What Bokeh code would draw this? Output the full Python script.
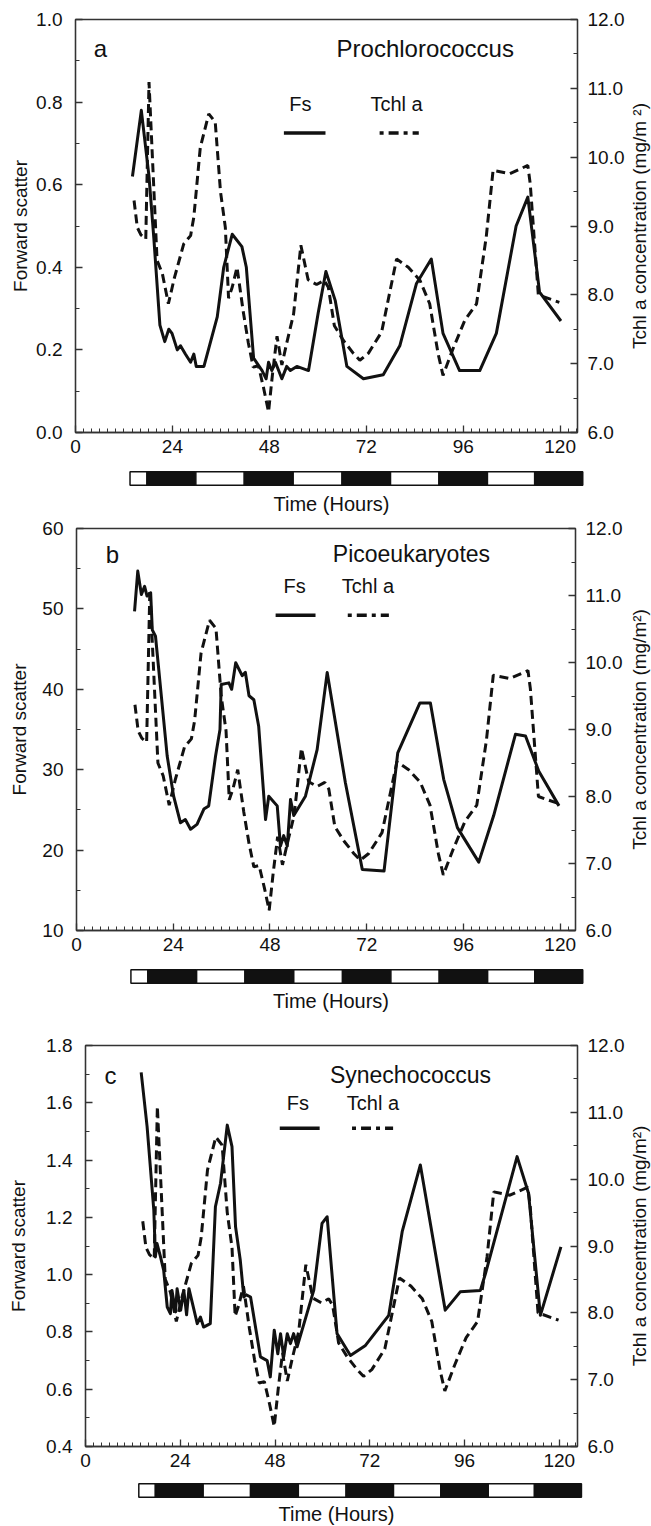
import math
from bokeh.plotting import figure
from bokeh.layouts import column, row
from bokeh.models import Range1d, LinearAxis, FixedTicker, PrintfTickFormatter, Label, Title
from bokeh.embed import file_html
from bokeh.resources import INLINE

FONT = "Liberation Sans"
INK = "#111111"
AXC = "#333333"

# ---------------- data ----------------
# Total chlorophyll a (same series drawn in all three panels, right axis)
tchl_hours = [14.5, 15.3, 16.2, 17.4, 18.2, 20.2, 21.5, 23.0, 24.5, 26.8, 28.5, 29.3, 30.9,
              33.0, 34.6, 35.9, 37.1, 37.9, 38.8, 40.0, 41.5, 42.8, 44.0, 45.3, 46.6, 47.8,
              48.8, 49.9, 51.1, 52.3, 54.0, 55.8, 57.6, 59.7, 61.6, 62.6, 64.1, 66.3, 68.8,
              70.4, 72.5, 75.8, 79.5, 82.4, 85.3, 87.7, 89.8, 91.0, 93.5, 96.4, 99.3, 101.7,
              103.4, 107.5, 112.0, 112.6, 114.6, 119.8]
tchl_values = [9.37, 8.98, 8.87, 8.81, 11.09, 8.50, 8.31, 7.87, 8.25, 8.74, 8.86, 9.13, 10.14,
               10.63, 10.51, 9.50, 8.98, 7.95, 8.11, 8.40, 7.77, 7.30, 6.95, 6.97, 6.64, 6.30,
               6.86, 7.40, 6.98, 7.30, 7.72, 8.72, 8.22, 8.15, 8.21, 8.11, 7.55, 7.34, 7.15,
               7.05, 7.15, 7.46, 8.52, 8.40, 8.21, 7.87, 7.14, 6.83, 7.22, 7.63, 7.87, 8.84,
               9.81, 9.76, 9.88, 9.61, 8.00, 7.89]

# (a) Prochlorococcus forward scatter
fs_a_hours = [14.1, 16.3, 18.2, 19.4, 20.9, 22.1, 23.1, 23.9, 25.2, 26.0, 27.2, 28.5, 29.3,
              29.9, 31.8, 35.1, 36.7, 38.8, 41.2, 42.3, 44.1, 46.2, 47.2, 47.8, 48.6, 49.5,
              50.3, 51.1, 52.3, 53.2, 54.8, 57.7, 60.1, 62.0, 64.3, 67.2, 71.3, 76.2, 80.3,
              84.4, 88.1, 91.0, 95.1, 100.1, 104.2, 109.1, 112.0, 114.9, 120.2]
fs_a_values = [0.62, 0.78, 0.62, 0.47, 0.26, 0.22, 0.25, 0.24, 0.20, 0.21, 0.19, 0.17, 0.19,
               0.16, 0.16, 0.28, 0.40, 0.48, 0.45, 0.40, 0.18, 0.15, 0.13, 0.17, 0.15, 0.17,
               0.15, 0.13, 0.16, 0.15, 0.16, 0.15, 0.29, 0.39, 0.32, 0.16, 0.13, 0.14, 0.21,
               0.36, 0.42, 0.24, 0.15, 0.15, 0.24, 0.50, 0.57, 0.34, 0.27]

# (b) Picoeukaryotes forward scatter
fs_b_hours = [14.4, 15.2, 16.1, 16.9, 17.5, 18.4, 18.8, 19.6, 22.5, 24.1, 25.8, 27.0, 28.3,
              29.9, 31.6, 32.8, 34.5, 35.6, 35.9, 37.8, 38.5, 39.5, 41.1, 41.9, 42.8, 44.0,
              45.2, 46.9, 47.7, 49.8, 50.6, 51.4, 52.3, 53.1, 53.9, 56.8, 59.7, 62.2, 66.7,
              70.9, 76.3, 79.7, 85.2, 87.8, 91.1, 94.5, 99.8, 103.5, 108.9, 111.4, 114.7, 119.7]
fs_b_values = [49.7, 54.7, 51.8, 52.8, 51.6, 52.0, 47.4, 46.6, 31.7, 26.7, 23.4, 23.8, 22.6,
               23.2, 25.1, 25.5, 31.7, 35.0, 40.6, 40.8, 40.0, 43.3, 41.7, 42.1, 39.2, 38.7,
               35.4, 23.8, 26.7, 25.5, 20.5, 21.8, 20.5, 26.3, 24.3, 26.7, 32.5, 42.1, 28.4,
               17.6, 17.4, 32.1, 38.3, 38.3, 28.8, 22.8, 18.5, 24.3, 34.4, 34.2, 29.8, 25.5]

# (c) Synechococcus forward scatter
fs_c_hours = [14.1, 15.6, 17.3, 17.7, 18.1, 19.0, 19.8, 20.7, 21.5, 21.9, 22.8, 23.2, 24.1,
              24.9, 25.6, 26.2, 28.3, 29.1, 29.9, 31.6, 32.9, 34.2, 35.9, 37.1, 38.0, 39.2,
              40.1, 40.6, 41.8, 44.3, 46.0, 46.8, 47.8, 48.7, 49.4, 50.2, 51.1, 51.9, 52.7,
              53.6, 57.8, 59.9, 61.2, 63.7, 67.1, 70.9, 76.8, 80.2, 84.8, 91.1, 94.9, 100.0,
              101.3, 109.3, 112.2, 115.2, 120.4]
fs_c_values = [1.706, 1.517, 1.225, 1.062, 1.109, 1.062, 1.015, 0.887, 0.864, 0.945, 0.870,
               0.951, 0.876, 0.945, 0.860, 0.951, 0.829, 0.852, 0.817, 0.829, 1.237, 1.319,
               1.522, 1.447, 1.167, 1.050, 0.922, 0.930, 0.922, 0.713, 0.700, 0.643, 0.806,
               0.724, 0.794, 0.713, 0.794, 0.759, 0.794, 0.748, 0.945, 1.179, 1.202, 0.794,
               0.718, 0.753, 0.858, 1.150, 1.383, 0.876, 0.940, 0.945, 1.004, 1.412, 1.284,
               0.858, 1.097]

# light / dark bar (hours at which light changes; starts with light)
light_dark_edges = [13.5, 17.7, 29.8, 41.8, 53.9, 66.0, 78.0, 90.0, 102.0, 113.7, 125.6]

x_ticks = [0, 24, 48, 72, 96, 120]
x_minor = list(range(0, 125, 2))
tchl_ticks = [6, 7, 8, 9, 10, 11, 12]
tchl_minor = [6 + 0.5 * i for i in range(13)]

yticks_a = [0.0, 0.2, 0.4, 0.6, 0.8, 1.0]
yminor_a = [round(0.1 * i, 1) for i in range(11)]
yticks_b = [10, 20, 30, 40, 50, 60]
yminor_b = list(range(10, 61, 5))
yticks_c = [0.4, 0.6, 0.8, 1.0, 1.2, 1.4, 1.6, 1.8]
yminor_c = [round(0.4 + 0.1 * i, 1) for i in range(15)]

LABEL_STRIP = 24  # width of the strip holding the right-axis title

panels = [
    dict(letter="a", name="Prochlorococcus", hours=fs_a_hours, fs=fs_a_values,
         yr=(0.0, 1.0), yt=yticks_a, ym=yminor_a, fmt="%.1f",
         left=75, fw=502, xmax=124.3, top=19, fh=413, lab_standoff=2,
         rlabel="Tchl a concentration (mg/m \u00b2)",
         letter_xy=(6.2, 0.93), name_xy=(86.6, 0.93), name_size="24px",
         fs_xy=(55.7, 0.796), tchl_xy=(79.5, 0.796),
         solid=(51.6, 61.9, 0.725), dashed=(75.3, 85.0, 0.725),
         bar_top=6, bar_bottom=31, t_standoff=9),
    dict(letter="b", name="Picoeukaryotes", hours=fs_b_hours, fs=fs_b_values,
         yr=(10, 60), yt=yticks_b, ym=yminor_b, fmt="%d",
         left=76, fw=499, xmax=123.8, top=9, fh=402, lab_standoff=9,
         rlabel="Tchl a concentration (mg/m\u00b2)",
         letter_xy=(8.9, 56.8), name_xy=(83.1, 56.8), name_size="23px",
         fs_xy=(54.1, 52.8), tchl_xy=(72.3, 52.8),
         solid=(49.4, 59.3, 49.2), dashed=(67.3, 77.5, 49.2),
         bar_top=6, bar_bottom=29, t_standoff=6),
    dict(letter="c", name="Synechococcus", hours=fs_c_hours, fs=fs_c_values,
         yr=(0.4, 1.8), yt=yticks_c, ym=yminor_c, fmt="%.1f",
         left=85, fw=492, xmax=124.6, top=31, fh=401, lab_standoff=14,
         rlabel="Tchl a concentration (mg/m\u00b2)",
         letter_xy=(6.3, 1.697), name_xy=(82.3, 1.697), name_size="23px",
         fs_xy=(53.8, 1.598), tchl_xy=(72.8, 1.598),
         solid=(49.2, 59.3, 1.511), dashed=(67.5, 77.9, 1.511),
         bar_top=4, bar_bottom=31, t_standoff=4),
]

MAIN_BOTTOM = 32


def style_axis(ax, ticks, minor, fmt, label, standoff, label_standoff):
    ax.ticker = FixedTicker(ticks=ticks, minor_ticks=minor)
    ax.formatter = PrintfTickFormatter(format=fmt)
    ax.axis_label = label
    ax.axis_label_text_font = FONT
    ax.axis_label_text_font_size = "19px"
    ax.axis_label_text_font_style = "normal"
    ax.axis_label_text_color = INK
    ax.axis_label_standoff = label_standoff
    ax.major_label_text_font = FONT
    ax.major_label_text_font_size = "19px"
    ax.major_label_text_color = INK
    ax.major_label_standoff = standoff
    ax.axis_line_color = AXC
    ax.axis_line_width = 1.3
    ax.major_tick_line_color = AXC
    ax.minor_tick_line_color = AXC
    ax.major_tick_line_width = 1.3
    ax.major_tick_in = 7
    ax.major_tick_out = 0
    ax.minor_tick_in = 4
    ax.minor_tick_out = 0


def add_text(p, xy, text, size, angle=0.0):
    p.add_layout(Label(x=xy[0], y=xy[1], text=text, text_font=FONT, text_font_size=size,
                       text_color=INK, text_align="center", text_baseline="middle",
                       angle=angle))


def make_panel(c):
    right = 651 - c["left"] - c["fw"] - LABEL_STRIP
    p = figure(x_range=Range1d(0, c["xmax"]), y_range=Range1d(*c["yr"]),
               frame_width=c["fw"], frame_height=c["fh"],
               min_border_left=c["left"], min_border_right=right,
               min_border_top=c["top"], min_border_bottom=MAIN_BOTTOM,
               output_backend="svg", toolbar_location=None, tools="")
    p.grid.visible = False
    p.outline_line_color = AXC
    p.outline_line_width = 1.3
    p.background_fill_color = "white"
    p.border_fill_color = "white"
    p.extra_y_ranges = {"tchl": Range1d(6, 12)}

    style_axis(p.xaxis[0], x_ticks, x_minor, "%d", "", 7, 0)
    style_axis(p.yaxis[0], c["yt"], c["ym"], c["fmt"], "Forward scatter", 13, c["lab_standoff"])
    rax = LinearAxis(y_range_name="tchl")
    style_axis(rax, tchl_ticks, tchl_minor, "%.1f", "", 10, 3)
    p.add_layout(rax, "right")

    p.line(c["hours"], c["fs"], line_width=3, line_color=INK, line_join="round")
    p.line(tchl_hours, tchl_values, y_range_name="tchl", line_width=3, line_color=INK,
           line_dash="9 5")

    s = c["solid"]
    d = c["dashed"]
    p.segment(x0=[s[0]], y0=[s[2]], x1=[s[1]], y1=[s[2]], line_width=3.5, line_color=INK)
    p.segment(x0=[d[0]], y0=[d[2]], x1=[d[1]], y1=[d[2]], line_width=3.5, line_color=INK,
              line_dash="4 5 10 5")

    add_text(p, c["letter_xy"], c["letter"], "24px")
    add_text(p, c["name_xy"], c["name"], c["name_size"])
    add_text(p, c["fs_xy"], "Fs", "20px")
    add_text(p, c["tchl_xy"], "Tchl a", "20px")

    # narrow strip to the right that carries the right-axis title (bottom-to-top)
    s_fig = figure(x_range=Range1d(0, 1), y_range=Range1d(0, 1),
                   frame_width=LABEL_STRIP, frame_height=c["fh"],
                   min_border_left=0, min_border_right=0,
                   min_border_top=c["top"], min_border_bottom=MAIN_BOTTOM,
                   x_axis_type=None, y_axis_type=None,
                   output_backend="svg", toolbar_location=None, tools="")
    s_fig.grid.visible = False
    s_fig.outline_line_color = None
    add_text(s_fig, (0.5, 0.5), c["rlabel"], "19px", angle=math.pi / 2)
    return row(p, s_fig, spacing=0)


def make_bar(c):
    fwb = c["fw"] + 10
    right = 651 - c["left"] - fwb
    b = figure(x_range=Range1d(0, c["xmax"] * fwb / c["fw"]), y_range=Range1d(-0.1, 1.1),
               frame_width=fwb, frame_height=16,
               min_border_left=c["left"], min_border_right=right,
               min_border_top=c["bar_top"], min_border_bottom=c["bar_bottom"],
               x_axis_type=None, y_axis_type=None,
               output_backend="svg", toolbar_location=None, tools="")
    b.grid.visible = False
    b.outline_line_color = None
    lefts = light_dark_edges[:-1]
    rights = light_dark_edges[1:]
    colors = ["white" if i % 2 == 0 else INK for i in range(len(lefts))]
    b.quad(left=lefts, right=rights, bottom=0, top=1, fill_color=colors,
           line_color=INK, line_width=1.5)
    t = Title(text="Time (Hours)", align="center", text_font=FONT, text_font_size="20px",
              text_font_style="normal", text_color=INK, standoff=c["t_standoff"])
    b.add_layout(t, "below")
    return b


children = []
for c in panels:
    children.append(make_panel(c))
    children.append(row(make_bar(c)))

layout = column(*children, spacing=0)

open("out.html", "w").write(file_html(layout, INLINE))
